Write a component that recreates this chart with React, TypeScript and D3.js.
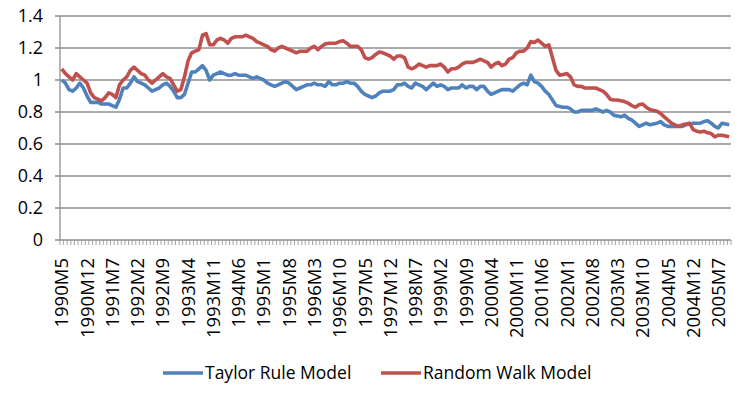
import React, { useEffect, useRef } from 'react';
import * as d3 from 'd3';

// monthly observations from 1990M5
const startYear = 1990;
const startMonth = 5;

const taylorRule = [
  1.00, 0.98, 0.94, 0.93, 0.95, 0.98, 0.95, 0.90, 0.86, 0.86,
  0.86, 0.85, 0.85, 0.85, 0.84, 0.83, 0.88, 0.95, 0.95, 0.98,
  1.02, 0.99, 0.98, 0.97, 0.95, 0.93, 0.94, 0.95, 0.97, 0.98,
  0.96, 0.93, 0.89, 0.89, 0.91, 0.98, 1.05, 1.05, 1.07, 1.09,
  1.06, 1.00, 1.03, 1.04, 1.05, 1.04, 1.03, 1.03, 1.04, 1.03,
  1.03, 1.03, 1.02, 1.01, 1.02, 1.01, 1.00, 0.98, 0.97, 0.96,
  0.97, 0.98, 0.99, 0.98, 0.96, 0.94, 0.95, 0.96, 0.97, 0.97,
  0.98, 0.97, 0.97, 0.96, 0.99, 0.97, 0.97, 0.98, 0.98, 0.99,
  0.98, 0.98, 0.96, 0.93, 0.91, 0.90, 0.89, 0.90, 0.92, 0.93,
  0.93, 0.93, 0.94, 0.97, 0.97, 0.98, 0.96, 0.95, 0.98, 0.97,
  0.96, 0.94, 0.96, 0.98, 0.96, 0.97, 0.96, 0.94, 0.95, 0.95,
  0.95, 0.97, 0.95, 0.96, 0.96, 0.94, 0.96, 0.96, 0.93, 0.91,
  0.92, 0.93, 0.94, 0.94, 0.94, 0.93, 0.95, 0.97, 0.98, 0.97,
  1.03, 0.99, 0.98, 0.96, 0.93, 0.91, 0.875, 0.84, 0.835, 0.83,
  0.83, 0.82, 0.80, 0.80, 0.81, 0.81, 0.81, 0.81, 0.82, 0.81,
  0.80, 0.81, 0.80, 0.78, 0.775, 0.77, 0.78, 0.76, 0.75, 0.73,
  0.71, 0.72, 0.73, 0.72, 0.725, 0.73, 0.74, 0.72, 0.71, 0.71,
  0.71, 0.71, 0.71, 0.72, 0.725, 0.73, 0.73, 0.73, 0.74, 0.745,
  0.73, 0.71, 0.70, 0.73, 0.725, 0.72
];

const randomWalk = [
  1.07, 1.04, 1.02, 1.00, 1.04, 1.02, 1.00, 0.98, 0.92, 0.89,
  0.88, 0.87, 0.89, 0.92, 0.91, 0.89, 0.97, 1.00, 1.02, 1.06,
  1.08, 1.06, 1.04, 1.03, 1.00, 0.98, 1.00, 1.02, 1.04, 1.02,
  1.01, 0.97, 0.93, 0.94, 1.02, 1.12, 1.17, 1.18, 1.19, 1.28,
  1.29, 1.22, 1.22, 1.25, 1.26, 1.25, 1.23, 1.26, 1.27, 1.27,
  1.27, 1.28, 1.27, 1.26, 1.24, 1.23, 1.22, 1.21, 1.19, 1.18,
  1.20, 1.21, 1.20, 1.19, 1.18, 1.17, 1.18, 1.18, 1.18, 1.20,
  1.21, 1.19, 1.21, 1.225, 1.23, 1.23, 1.23, 1.24, 1.245, 1.23,
  1.21, 1.21, 1.21, 1.19, 1.14, 1.13, 1.14, 1.16, 1.175, 1.17,
  1.16, 1.15, 1.13, 1.15, 1.15, 1.14, 1.08, 1.07, 1.08, 1.10,
  1.09, 1.08, 1.09, 1.09, 1.09, 1.10, 1.08, 1.05, 1.07, 1.07,
  1.08, 1.10, 1.11, 1.11, 1.11, 1.12, 1.13, 1.12, 1.11, 1.08,
  1.10, 1.11, 1.09, 1.10, 1.13, 1.14, 1.17, 1.18, 1.18, 1.20,
  1.24, 1.235, 1.25, 1.23, 1.21, 1.22, 1.14, 1.06, 1.03, 1.035,
  1.04, 1.02, 0.97, 0.96, 0.96, 0.95, 0.95, 0.95, 0.95, 0.94,
  0.93, 0.91, 0.88, 0.875, 0.875, 0.87, 0.865, 0.855, 0.84, 0.83,
  0.845, 0.85, 0.83, 0.815, 0.81, 0.805, 0.79, 0.77, 0.75, 0.73,
  0.72, 0.71, 0.72, 0.725, 0.73, 0.69, 0.68, 0.675, 0.68, 0.67,
  0.665, 0.645, 0.655, 0.655, 0.65, 0.645
];

const tickLabels = [
  '1990M5', '1990M12', '1991M7', '1992M2', '1992M9', '1993M4', '1993M11',
  '1994M6', '1995M1', '1995M8', '1996M3', '1996M10', '1997M5', '1997M12',
  '1998M7', '1999M2', '1999M9', '2000M4', '2000M11', '2001M6', '2002M1',
  '2002M8', '2003M3', '2003M10', '2004M5', '2004M12', '2005M7'
];

const yTicks = [0, 0.2, 0.4, 0.6, 0.8, 1, 1.2, 1.4];

const seriesNames = ['Taylor Rule Model', 'Random Walk Model'];
const seriesColors = ['#4F81BD', '#C0504D'];

const months = taylorRule.map((_, i) => {
  const m = startMonth - 1 + i;
  return `${startYear + Math.floor(m / 12)}M${(m % 12) + 1}`;
});

export default function App() {
  const svgRef = useRef<SVGSVGElement>(null);

  useEffect(() => {
    if (!svgRef.current) return;
    const svg = d3.select(svgRef.current);
    svg.selectAll('*').remove();

    const font = '"Open Sans", sans-serif';
    const left = 60, right = 731, top = 16, bottom = 240;

    const x = d3.scaleBand().domain(months).range([left, right]);
    const y = d3.scaleLinear().domain([0, 1.4]).range([bottom, top]);
    const cx = (m: string) => (x(m) || 0) + x.bandwidth() / 2;

    // horizontal gridlines (with short outside ticks)
    svg.append('g')
      .selectAll('line')
      .data(yTicks)
      .enter().append('line')
      .attr('x1', left - 5)
      .attr('x2', right)
      .attr('y1', d => y(d))
      .attr('y2', d => y(d))
      .attr('stroke', '#8e8e8e')
      .attr('stroke-width', 1.3);

    // y axis line
    svg.append('line')
      .attr('x1', left).attr('x2', left)
      .attr('y1', top).attr('y2', bottom)
      .attr('stroke', '#8e8e8e')
      .attr('stroke-width', 1.3);

    svg.append('g')
      .selectAll('text')
      .data(yTicks)
      .enter().append('text')
      .attr('x', 43)
      .attr('y', d => y(d))
      .attr('dy', '0.36em')
      .attr('text-anchor', 'end')
      .attr('font-family', font)
      .attr('font-size', 18)
      .attr('fill', '#000')
      .text(d => String(d));

    // category tick marks at every month boundary
    const bounds = months.map(m => x(m) || 0).concat([right]);
    svg.append('g')
      .selectAll('line')
      .data(bounds)
      .enter().append('line')
      .attr('x1', d => d).attr('x2', d => d)
      .attr('y1', bottom).attr('y2', bottom + 5)
      .attr('stroke', '#8e8e8e')
      .attr('stroke-width', 0.8);

    svg.append('g')
      .selectAll('text')
      .data(tickLabels)
      .enter().append('text')
      .attr('transform', d => `translate(${cx(d)},${bottom + 18}) rotate(-90)`)
      .attr('dy', '0.36em')
      .attr('text-anchor', 'end')
      .attr('font-family', font)
      .attr('font-size', 18.5)
      .attr('fill', '#000')
      .text(d => d);

    const line = d3.line<number>()
      .x((_, i) => cx(months[i]))
      .y(d => y(d));

    [taylorRule, randomWalk].forEach((s, k) => {
      svg.append('path')
        .attr('d', line(s) || '')
        .attr('fill', 'none')
        .attr('stroke', seriesColors[k])
        .attr('stroke-width', 3.6)
        .attr('stroke-linejoin', 'round');
    });

    // legend
    const legendX = [163, 381];
    const legendY = 373;
    seriesNames.forEach((name, k) => {
      svg.append('line')
        .attr('x1', legendX[k]).attr('x2', legendX[k] + 40)
        .attr('y1', legendY).attr('y2', legendY)
        .attr('stroke', seriesColors[k])
        .attr('stroke-width', 3.6);
      svg.append('text')
        .attr('x', legendX[k] + 42)
        .attr('y', legendY)
        .attr('dy', '0.36em')
        .attr('font-family', font)
        .attr('font-size', 17.5)
        .attr('fill', '#000')
        .text(name);
    });
  }, []);

  return (
    <svg
      ref={svgRef}
      width={746}
      height={396}
      style={{ position: 'absolute', left: 0, top: 0, background: '#fff' }}
    />
  );
}
